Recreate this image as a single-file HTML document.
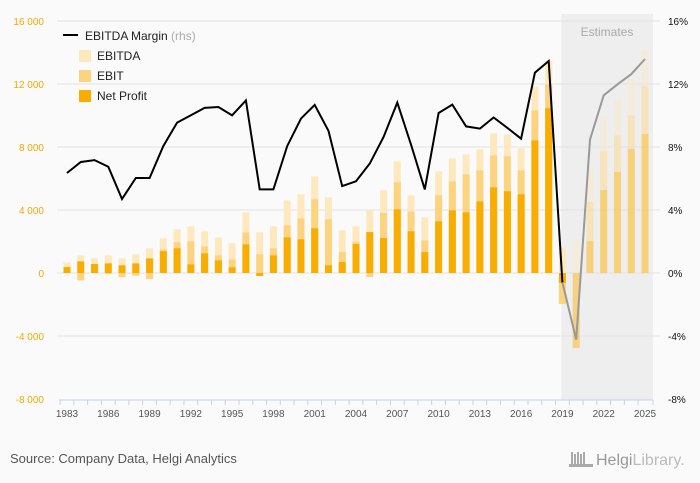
<!DOCTYPE html>
<html><head><meta charset="utf-8"><style>
body{margin:0;background:#fafafa;font-family:"Liberation Sans",sans-serif;}
svg{display:block}
</style></head><body>
<svg id="c" width="700" height="483" xmlns="http://www.w3.org/2000/svg"></svg>
<script>
const years=[];for(let y=1983;y<=2025;y++)years.push(y);
const netProfit=[380,740,570,610,490,610,930,1380,1570,550,1250,800,360,1820,-190,1120,2260,2140,2840,490,700,1840,2600,2220,4040,2650,1330,3280,3980,3850,4550,5440,5190,5000,8420,10460,-630,-4760,2030,5270,6410,7870,8830];
const ebit=[380,-470,570,-60,-270,-170,-390,1500,1950,2010,1690,1120,870,2580,1190,1570,3030,3470,4680,3410,1330,1970,-250,3810,5760,3910,2070,4930,5820,6260,6520,7470,7410,6520,10330,11980,-1970,-4760,4510,7730,8740,10010,11850];
const ebitda=[680,1120,930,1120,930,1190,1570,2200,2770,2960,2650,2260,1880,3850,2580,2960,4610,5000,6140,4810,2710,2960,4000,5250,7090,4930,3530,6450,7280,7530,7850,8870,8800,7920,11850,13500,1590,2160,6670,9950,11030,12320,14220];
const margin=[6.35,7.05,7.17,6.75,4.70,6.03,6.03,8.06,9.55,10.01,10.48,10.54,10.01,10.96,5.31,5.31,8.06,9.80,10.67,9.02,5.52,5.82,6.95,8.63,10.82,8.15,5.31,10.16,10.69,9.31,9.17,9.87,9.21,8.53,12.72,13.46,-0.6,-4.23,8.47,11.28,11.98,12.62,13.59];
const leftTicks=[-8000,-4000,0,4000,8000,12000,16000];
const leftLabels=["-8 000","-4 000","0","4 000","8 000","12 000","16 000"];
const rightTicks=[-8,-4,0,4,8,12,16];
const firstEstimate=2019;

const NS="http://www.w3.org/2000/svg";
const svg=document.getElementById('c');
function el(t,a,p){const e=document.createElementNS(NS,t);for(const k in a)e.setAttribute(k,a[k]);(p||svg).appendChild(e);return e;}
const X=y=>67+(y-1983)*(578/42);
const Y=v=>273-v*(252/16000);
const YR=p=>273-p*(252/16);

// estimates band
const est=el('rect',{x:X(firstEstimate)-1,y:14,width:653-X(firstEstimate)+1,height:386,fill:'#eeeeee'});

const et=el('text',{x:607,y:36,'text-anchor':'middle','font-size':12,fill:'#aaaaaa'});et.textContent='Estimates';


// grid + ticks
leftTicks.forEach((v,i)=>{
 if(v!==-8000){const g=el('line',{x1:57,x2:660,y1:Y(v),y2:Y(v),stroke:'#e3e3e3','stroke-width':1});
 }
 const t=el('text',{x:44,y:Y(v)+4,'text-anchor':'end','font-size':10,fill:'#f5a800'});t.textContent=leftLabels[i];
 
});
rightTicks.forEach(p=>{
 const t=el('text',{x:668,y:YR(p)+4,'font-size':10,fill:'#111'});t.textContent=p+'%';
 
});
// x axis
const ax=el('line',{x1:59,x2:653,y1:400,y2:400,stroke:'#c5d3e8'});

years.forEach((y,i)=>{
 el('line',{x1:X(y)-6.9,x2:X(y)-6.9,y1:400,y2:405,stroke:'#c5d3e8'});
 if((y-1983)%3===0){const t=el('text',{x:X(y),y:417,'text-anchor':'middle','font-size':10,fill:'#555'});t.textContent=y;
 }
});
el('line',{x1:653,x2:653,y1:400,y2:405,stroke:'#c5d3e8'});

// bars
function bar(x,v0,v1,fill,op,name){const a=Y(Math.max(v0,v1)),b=Y(Math.min(v0,v1));
 const r=el('rect',{x:x-3.5,y:a,width:7,height:Math.max(b-a,0),fill:fill,opacity:op});
 }
years.forEach((y,i)=>{
 const op=y>=firstEstimate+1?0.35:1;
 const x=X(y);
 bar(x,0,ebitda[i],'#fde9bd',op,'bar-ebitda');
 bar(x,0,ebit[i],'#fcd47f',op,'bar-ebit');
 bar(x,0,netProfit[i],'#f8ad00',op,'bar-net-profit');
});
// margin line
let p1='',p2='';
years.forEach((y,i)=>{const pt=X(y).toFixed(1)+','+YR(margin[i]).toFixed(1)+' ';
 if(y<=firstEstimate)p1+=pt; if(y>=firstEstimate)p2+=pt;});
const l1=el('polyline',{points:p1,fill:'none',stroke:'#000','stroke-width':2});

const l2=el('polyline',{points:p2,fill:'none',stroke:'#999','stroke-width':2});


// legend
const lg=el('g',{});
el('line',{x1:63,x2:78,y1:35,y2:35,stroke:'#000','stroke-width':2},lg);
const t0=el('text',{x:85,y:40,'font-size':12,fill:'#222'},lg);t0.innerHTML='EBITDA Margin <tspan fill="#aaa">(rhs)</tspan>';

[['EBITDA','#fde9bd',56],['EBIT','#fcd47f',76],['Net Profit','#f8ad00',96]].forEach(d=>{
 el('rect',{x:79,y:d[2]-6,width:12,height:12,fill:d[1]},lg);
 const t=el('text',{x:97,y:d[2]+4,'font-size':12,fill:'#222'},lg);t.textContent=d[0];
 
});
// footer
const s=el('text',{x:10,y:463,'font-size':13,fill:'#555'});s.textContent='Source: Company Data, Helgi Analytics';

const h=el('text',{x:596,y:465,'font-size':16,fill:'#999'});h.innerHTML='Helgi<tspan fill="#bbb">Library.</tspan>';

const ic=el('g',{fill:'#aaa'});
[0,3,6,9,12].forEach((dx,i)=>el('rect',{x:571+dx,y:452+(i%2)*2,width:2,height:14-(i%2)*2},ic));
el('rect',{x:569,y:464,width:24,height:3},ic);
</script>
</body></html>
